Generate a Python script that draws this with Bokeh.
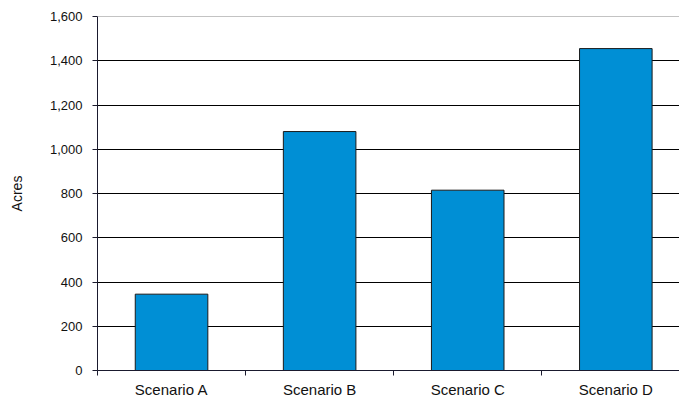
from bokeh.plotting import figure
from bokeh.models import Range1d, FixedTicker, ColumnDataSource, NumeralTickFormatter, Span
from bokeh.embed import file_html
from bokeh.resources import INLINE

categories = ["Scenario A", "Scenario B", "Scenario C", "Scenario D"]
acres = [345, 1080, 815, 1455]
y_ticks = [0, 200, 400, 600, 800, 1000, 1200, 1400, 1600]

xpos = [i + 0.5 for i in range(len(categories))]
src = ColumnDataSource(dict(x=xpos, top=acres))

p = figure(width=679, height=402, output_backend="svg", toolbar_location=None,
           x_range=Range1d(0, 3.93), y_range=Range1d(y_ticks[0], y_ticks[-1]))
p.min_border_left = 97
p.min_border_right = 0
p.min_border_top = 16
p.min_border_bottom = 32
p.outline_line_color = None
p.background_fill_color = "white"
p.border_fill_color = "white"

p.vbar(x="x", top="top", width=0.49, bottom=0, source=src,
       fill_color="#008FD5", line_color="#1a1a1a", line_width=1)

font = "Liberation Sans"
# x axis
p.xaxis.ticker = FixedTicker(ticks=xpos, minor_ticks=list(range(len(categories) + 1)))
p.xaxis.major_label_overrides = {x: c for x, c in zip(xpos, categories)}
p.xaxis.major_tick_out = 0
p.xaxis.major_tick_in = 0
p.xaxis.minor_tick_out = 5
p.xaxis.minor_tick_in = 0
p.xaxis.minor_tick_line_color = "#1a1a2e"
p.xaxis.axis_line_color = "#1a1a2e"
p.xaxis.major_label_text_font = font
p.xaxis.major_label_text_font_size = "15px"
p.xaxis.major_label_text_color = "#111111"
p.xaxis.major_label_standoff = 5

# y axis
p.yaxis.ticker = FixedTicker(ticks=y_ticks)
p.yaxis.formatter = NumeralTickFormatter(format="0,0")
p.yaxis.major_tick_out = 5
p.yaxis.major_tick_in = 0
p.yaxis.minor_tick_out = 0
p.yaxis.minor_tick_in = 0
p.yaxis.axis_line_color = "#1a1a2e"
p.yaxis.major_tick_line_color = "#1a1a2e"
p.yaxis.major_label_text_font = font
p.yaxis.major_label_text_font_size = "13px"
p.yaxis.major_label_text_color = "#111111"
p.yaxis.major_label_standoff = 10
p.yaxis.axis_label = "Acres"
p.yaxis.axis_label_text_font = font
p.yaxis.axis_label_text_font_size = "14px"
p.yaxis.axis_label_text_font_style = "normal"
p.yaxis.axis_label_text_color = "#111111"
p.yaxis.axis_label_standoff = 22

p.xgrid.grid_line_color = None
p.ygrid.ticker = FixedTicker(ticks=y_ticks[1:-1])
p.ygrid.grid_line_color = "#000000"
p.ygrid.grid_line_width = 1
p.add_layout(Span(location=y_ticks[-1], dimension="width", line_color="#888888", line_width=1))

open("out.html", "w").write(file_html(p, INLINE))
